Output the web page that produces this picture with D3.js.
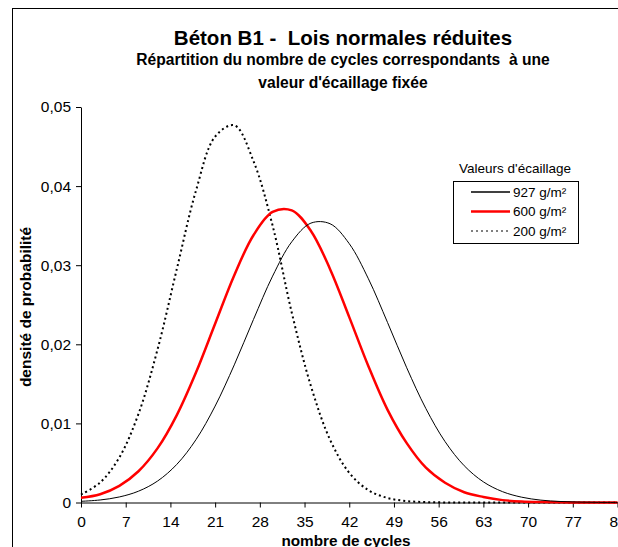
<!DOCTYPE html>
<html>
<head>
<meta charset="utf-8">
<script src="https://cdn.jsdelivr.net/npm/d3@7"></script>
<style>
  body { margin: 0; background: #fff; }
  text { font-family: Arial, "Liberation Sans", sans-serif; fill: #000; white-space: pre; }
</style>
</head>
<body>
<div id="chart"></div>
<script>
// nombre de cycles (abscisses)
const cycles = [0, 3, 6, 9, 12, 15, 18, 21, 24, 27, 30, 33, 36, 39, 42, 45, 48, 51, 54, 57, 60, 63, 66, 69, 72, 75, 78, 81, 84];

// densités
const v927 = [0.00015, 0.00032, 0.0007, 0.00143, 0.00272, 0.00482, 0.00794, 0.01219, 0.0174, 0.02313, 0.02862, 0.03296, 0.03532, 0.03524, 0.03272, 0.02828, 0.02275, 0.01703, 0.01187, 0.0077, 0.00465, 0.00261, 0.00137, 0.00067, 0.0003, 0.00013, 0.00005, 0.00002, 0.00001];
const v600 = [0.0006, 0.00105, 0.0021, 0.00395, 0.00687, 0.01105, 0.01643, 0.0226, 0.02874, 0.03379, 0.03674, 0.03693, 0.03433, 0.0295, 0.02344, 0.01723, 0.01171, 0.0075, 0.0044, 0.0025, 0.0013, 0.0007, 0.0003, 0.00012, 0.00005, 0.00002, 0.00001, 0, 0];
const v200 = [0.001, 0.00253, 0.00569, 0.0112, 0.0194, 0.02951, 0.03942, 0.04626, 0.04768, 0.04317, 0.035, 0.024, 0.01471, 0.00793, 0.00375, 0.00156, 0.00057, 0.00018, 0.00005, 0.00001, 0, 0, 0, 0, 0, 0, 0, 0, 0];

const seriesNames = ["927 g/m²", "600 g/m²", "200 g/m²"];
const xTicks = [0, 7, 14, 21, 28, 35, 42, 49, 56, 63, 70, 77, 84];
const yTicks = [0, 0.01, 0.02, 0.03, 0.04, 0.05];
const yTickLabels = ["0", "0,01", "0,02", "0,03", "0,04", "0,05"];

const width = 618;
const height = 547;
const margin = {top: 107, left: 81};

const svg = d3.select("#chart").append("svg")
  .attr("width", width)
  .attr("height", height);

// cadre du graphique
svg.append("rect")
  .attr("x", 12.5).attr("y", 8.5)
  .attr("width", 700).attr("height", 600)
  .attr("fill", "none")
  .attr("stroke", "#000")
  .attr("stroke-width", 1);

// titres
svg.append("text")
  .attr("x", 343).attr("y", 45)
  .attr("text-anchor", "middle")
  .attr("font-size", 20.5).attr("font-weight", "bold")
  .text("Béton B1 -  Lois normales réduites");
svg.append("text")
  .attr("x", 343).attr("y", 65)
  .attr("text-anchor", "middle")
  .attr("font-size", 15.6).attr("font-weight", "bold")
  .text("Répartition du nombre de cycles correspondants  à une");
svg.append("text")
  .attr("x", 343).attr("y", 88)
  .attr("text-anchor", "middle")
  .attr("font-size", 15.6).attr("font-weight", "bold")
  .text("valeur d'écaillage fixée");

const x = d3.scaleLinear().domain([0, 84]).range([margin.left, 617.5]);
const y = d3.scaleLinear().domain([0, 0.05]).range([502.5, margin.top]);

// axes
const xAxis = d3.axisBottom(x).tickValues(xTicks).tickSize(5).tickSizeOuter(0).tickFormat(d => d);
const yAxis = d3.axisLeft(y).tickValues(yTicks).tickSize(5).tickSizeOuter(0)
  .tickFormat((d, i) => yTickLabels[i]);

const gx = svg.append("g").attr("transform", `translate(0,${y(0)})`).call(xAxis);
const gy = svg.append("g").attr("transform", `translate(${x(0)},0)`).call(yAxis);

[gx, gy].forEach(g => {
  g.select(".domain").attr("stroke", "#000");
  g.selectAll(".tick line").attr("stroke", "#000");
  g.selectAll(".tick text").attr("font-size", 15.5)
    .attr("font-family", "Arial, 'Liberation Sans', sans-serif").attr("fill", "#000");
});
gx.selectAll(".tick text").attr("y", 10).attr("dy", "0.95em");
gy.selectAll(".tick text").attr("x", -10);

svg.append("text")
  .attr("x", 346).attr("y", 546)
  .attr("text-anchor", "middle")
  .attr("font-size", 15.3).attr("font-weight", "bold")
  .text("nombre de cycles");
svg.append("text")
  .attr("transform", "translate(31,307) rotate(-90)")
  .attr("text-anchor", "middle")
  .attr("font-size", 15.5).attr("font-weight", "bold")
  .text("densité de probabilité");

// courbes
const line = d3.line()
  .x((d, i) => x(cycles[i]))
  .y(d => y(Math.max(0, d)))
  .curve(d3.curveCatmullRom);

const styles = [
  {data: v927, color: "#000", w: 1, dash: null},
  {data: v600, color: "#ff0000", w: 2.5, dash: null},
  {data: v200, color: "#000", w: 2, dash: "2,3"}
];

svg.append("g").selectAll("path")
  .data(styles.slice().reverse())
  .join("path")
  .attr("d", d => line(d.data))
  .attr("fill", "none")
  .attr("stroke", d => d.color)
  .attr("stroke-width", d => d.w)
  .attr("stroke-dasharray", d => d.dash);

// légende
const legend = svg.append("g");
legend.append("text")
  .attr("x", 515).attr("y", 173)
  .attr("text-anchor", "middle")
  .attr("font-size", 13.5)
  .text("Valeurs d'écaillage");
legend.append("rect")
  .attr("x", 453.5).attr("y", 181.5)
  .attr("width", 125).attr("height", 62)
  .attr("fill", "#fff")
  .attr("stroke", "#000");

const items = legend.selectAll("g.item")
  .data(styles)
  .join("g")
  .attr("class", "item")
  .attr("transform", (d, i) => `translate(0,${192 + i * 19.5})`);
items.append("line")
  .attr("x1", 471).attr("x2", 510)
  .attr("stroke", d => d.color)
  .attr("stroke-width", d => d.w === 1 ? 1.3 : d.w === 2 ? 1 : d.w)
  .attr("stroke-dasharray", d => d.dash);
items.append("text")
  .attr("x", 513).attr("dy", "0.35em")
  .attr("font-size", 13.5)
  .text((d, i) => seriesNames[i]);
</script>
</body>
</html>
